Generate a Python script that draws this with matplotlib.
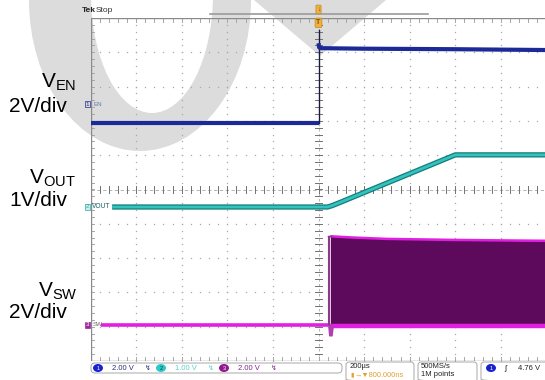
import numpy as np
import matplotlib
matplotlib.use("Agg")
import matplotlib.pyplot as plt
from matplotlib.patches import Ellipse, Polygon, FancyBboxPatch

plt.rcParams['font.family'] = ['Liberation Sans', 'DejaVu Sans']
plt.rcParams['mathtext.fontset'] = 'custom'
plt.rcParams['mathtext.rm'] = 'Liberation Sans'
plt.rcParams['mathtext.it'] = 'Liberation Sans'

# ---- acquisition settings -------------------------------------------------
time_per_div = 200.0          # us / div, trigger at t = 0 (screen centre)
n_div = 10                    # graticule divisions, both directions

# ---- channel 1 : EN, 2 V/div ----------------------------------------------
en_scale, en_pos = 2.0, 1.94          # V/div, ground position (div)
en_low_t = [-1000, 0]
en_low_v = [0.0, 0.0]
en_edge_v = [0.0, 5.4]                # rising edge at the trigger point
en_high_t = [0, 3, 10, 200, 600, 1100]
en_high_v = [4.65, 4.40, 4.36, 4.33, 4.30, 4.24]

# ---- channel 2 : VOUT, 1 V/div --------------------------------------------
vout_scale, vout_pos = 1.0, -0.51
vout_t = [-905, 40, 60, 90, 600, 1100]
vout_v = [0.0, 0.0, 0.04, 0.12, 1.52, 1.52]

# ---- channel 3 : SW, 2 V/div ----------------------------------------------
sw_scale, sw_pos = 2.0, -3.95
sw_idle_t = [-955, 40]
sw_idle_v = [0.0, 0.0]
sw_burst_t = [52, 70, 150, 300, 600, 900, 1100]
sw_burst_top = [5.18, 5.16, 5.10, 5.02, 4.96, 4.92, 4.90]
sw_first_pulses_t = [40, 44, 48]
sw_dip_t = [40, 44, 60, 66]
sw_dip_v = [0.0, -0.64, -0.64, 0.0]

# ---- status bar text ------------------------------------------------------
ch_labels = ['1', '2', '3']
ch_scales = ['2.00 V', '1.00 V', '2.00 V']
timebase = '200µs'
trig_delay = '800.000ns'
sample_rate = '500MS/s'
record_len = '1M points'
trig_level = '4.76 V'

W, H = 545, 380
fig = plt.figure(figsize=(W / 100, H / 100), dpi=100)
fig.patch.set_facecolor('white')

# overlay in pixel units for watermark, side labels and status bar
ov = fig.add_axes([0, 0, 1, 1], zorder=0)
ov.set_xlim(0, W)
ov.set_ylim(H, 0)
ov.axis('off')

wm = '#dcdcdc'
ov.add_patch(Ellipse((140, 0), 222, 302, color=wm, lw=0))
ov.add_patch(Ellipse((152, -6), 122, 238, color='white', lw=0))
ov.add_patch(Polygon([(254, 0), (386, 0), (320, 56)], closed=True, color=wm, lw=0))

# scope graticule axes (x in us, y in divisions)
gx0, gx1, gy0, gy1 = 90.5, 90.5 + 45.6 * n_div, 18, 361
ax = fig.add_axes([gx0 / W, (H - gy1) / H, (gx1 - gx0) / W, (gy1 - gy0) / H], zorder=2)
ax.patch.set_alpha(0)
half_t = time_per_div * n_div / 2
ax.set_xlim(-half_t, half_t)
ax.set_ylim(-n_div / 2, n_div / 2)
ax.axis('off')

gcol = '#a8a8a8'
minor_t = np.arange(-half_t, half_t + 1, time_per_div / 5)
minor_y = np.arange(-5, 5.01, 0.2)
for k in range(-4, 5):
    if k == 0:
        continue
    ax.plot(minor_t, np.full_like(minor_t, k), ls='none', marker='s', ms=0.9,
            mec='none', mfc=gcol, zorder=1)
    ax.plot(np.full_like(minor_y, k * time_per_div), minor_y, ls='none', marker='s',
            ms=0.9, mec='none', mfc=gcol, zorder=1)

# centre lines with minor ticks
ax.plot([-half_t, half_t], [0, 0], color=gcol, lw=0.6, ls=(0, (4, 3)), zorder=1)
ax.plot([0, 0], [-5, 5], color=gcol, lw=0.6, ls=(0, (3, 3)), zorder=1)
tk_y = 0.11
tk_t = 14.0
for t in minor_t:
    ax.plot([t, t], [-tk_y, tk_y], color='#707070', lw=0.7, zorder=1)
    ax.plot([t, t], [5, 5 - tk_y], color=gcol, lw=0.7, zorder=1)
    ax.plot([t, t], [-5, -5 + tk_y], color=gcol, lw=0.7, zorder=1)
for y in minor_y:
    ax.plot([-tk_t, tk_t], [y, y], color='#707070', lw=0.7, zorder=1)
    ax.plot([-half_t, -half_t + tk_t], [y, y], color=gcol, lw=0.7, zorder=1)

# border
ax.plot([-half_t, -half_t], [-5, 5], color='#8a8a8a', lw=1.0, zorder=1)
ax.plot([-half_t, half_t], [5, 5], color='#8a8a8a', lw=1.0, zorder=1)
ax.plot([-half_t, half_t], [-5, -5], color='#8a8a8a', lw=1.0, zorder=1)


def scr(v, scale, pos):
    return pos + np.asarray(v, dtype=float) / scale


# EN trace
en_c = '#1b2a96'
ax.plot(en_low_t, scr(en_low_v, en_scale, en_pos), color=en_c, lw=3.0,
        solid_capstyle='butt', zorder=4)
ax.plot([0, 0], scr(en_edge_v, en_scale, en_pos), color='#1a1a40', lw=1.0, zorder=4)
ax.plot(en_high_t, scr(en_high_v, en_scale, en_pos), color=en_c, lw=3.0,
        solid_capstyle='butt', zorder=4)

# VOUT trace
ax.plot(vout_t, scr(vout_v, vout_scale, vout_pos), color='#137d7a', lw=3.8,
        solid_capstyle='butt', zorder=4)
ax.plot(vout_t, scr(vout_v, vout_scale, vout_pos), color='#33c2bd', lw=2.0,
        solid_capstyle='butt', zorder=5)

# SW trace
sw_c = '#e21ee2'
sw_fill = '#5e0a5c'
ax.plot(sw_idle_t, scr(sw_idle_v, sw_scale, sw_pos), color=sw_c, lw=2.6,
        solid_capstyle='butt', zorder=4)
ax.fill_between(sw_burst_t, scr(np.zeros(len(sw_burst_t)), sw_scale, sw_pos),
                scr(sw_burst_top, sw_scale, sw_pos), color=sw_fill, lw=0, zorder=3)
ax.plot(sw_burst_t, scr(sw_burst_top, sw_scale, sw_pos), color=sw_c, lw=1.8,
        solid_capstyle='butt', zorder=4)
ax.plot(sw_burst_t, scr(np.full(len(sw_burst_t), -0.08), sw_scale, sw_pos), color=sw_c,
        lw=3.2, solid_capstyle='butt', zorder=4)
for t in sw_first_pulses_t:
    ax.plot([t, t], scr([0, sw_burst_top[0]], sw_scale, sw_pos), color='#8a3a88',
            lw=0.8, zorder=4)
ax.fill_between(sw_dip_t, scr(np.zeros(len(sw_dip_t)), sw_scale, sw_pos),
                scr(sw_dip_v, sw_scale, sw_pos), color='#b040b0', lw=0, zorder=4)
ax.plot([40, 56], scr([sw_burst_top[0], sw_burst_top[0]], sw_scale, sw_pos),
        color='#8a3a88', lw=1.0, zorder=4)

# record-view bar and trigger marker
ax.plot([-476, 480], [5.12, 5.12], color='#9a9a9a', lw=1.2, clip_on=False, zorder=2)
ax.text(0, 5.25, '↓', ha='center', va='center', fontsize=5, color='#7a5200',
        clip_on=False, zorder=6,
        bbox=dict(boxstyle='round,pad=0.12', fc='#f0b040', ec='#c08a20', lw=0.5))
ax.text(0, 4.86, 'T', ha='center', va='center', fontsize=5, color='#7a5200',
        fontweight='bold', clip_on=False, zorder=6,
        bbox=dict(boxstyle='round,pad=0.18', fc='#f0b040', ec='#c08a20', lw=0.5))

# channel ground markers
ax.text(-half_t - 14, en_pos + 0.55, '1', ha='center', va='center', fontsize=4.5,
        color='#1b2a96', clip_on=False, zorder=6,
        bbox=dict(boxstyle='square,pad=0.1', fc='none', ec='#1b2a96', lw=0.5))
ax.text(-half_t + 12, en_pos + 0.55, 'EN', ha='left', va='center', fontsize=4.5,
        color='#6a78b0', clip_on=False, zorder=6)
ax.text(-half_t - 14, vout_pos, '2', ha='center', va='center', fontsize=4.5,
        color='#2aaaa6', clip_on=False, zorder=6,
        bbox=dict(boxstyle='square,pad=0.1', fc='#c8f0ee', ec='#2aaaa6', lw=0.5))
ax.text(-half_t + 8, vout_pos, 'VOUT', ha='left', va='center', fontsize=4.8,
        color='#0f5e5c', clip_on=False, zorder=6)
ax.text(-half_t - 14, sw_pos, '3', ha='center', va='center', fontsize=4.5,
        color='white', clip_on=False, zorder=6,
        bbox=dict(boxstyle='square,pad=0.1', fc='#a0269e', ec='#a0269e', lw=0.5))
ax.text(-half_t + 8, sw_pos, 'SW', ha='left', va='center', fontsize=4.5,
        color='#707070', clip_on=False, zorder=6)

# header
ov.text(82, 10, 'Tek', fontsize=6, fontweight='bold', ha='left', va='center', color='#222')
ov.text(96, 10, 'Stop', fontsize=6, ha='left', va='center', color='#333')

# side labels
lab = 15
ov.text(76, 82, r'V$_{\mathrm{EN}}$', fontsize=lab, ha='right', va='center')
ov.text(67, 106, '2V/div', fontsize=lab, ha='right', va='center')
ov.text(76, 178, r'V$_{\mathrm{OUT}}$', fontsize=lab, ha='right', va='center')
ov.text(67, 200, '1V/div', fontsize=lab, ha='right', va='center')
ov.text(78, 291, r'V$_{\mathrm{SW}}$', fontsize=lab, ha='right', va='center')
ov.text(67, 312, '2V/div', fontsize=lab, ha='right', va='center')

# status bar
sy = 368
ov.add_patch(FancyBboxPatch((91, sy - 5), 251, 10, boxstyle='round,pad=0,rounding_size=4',
                            fc='none', ec='#a8a8a8', lw=0.7))
dot_cols = ['#1a22d0', '#2ec8c8', '#8e1a8e']
txt_cols = ['#2a2f7a', '#5ccfcf', '#7a2a8a']
for i, (lbl, s) in enumerate(zip(ch_labels, ch_scales)):
    x0 = 98 + i * 63
    ov.add_patch(Ellipse((x0, sy), 10, 8, color=dot_cols[i], lw=0))
    ov.text(x0, sy, lbl, fontsize=4, ha='center', va='center',
            color='white' if i != 1 else '#0a4040')
    ov.text(x0 + 14, sy, s, fontsize=5.5, ha='left', va='center', color=txt_cols[i])
    ov.text(x0 + 50, sy, '↯', fontsize=5, ha='center', va='center', color=txt_cols[i])

for xl, xr in [(346, 414), (418, 477), (481, 560)]:
    ov.add_patch(FancyBboxPatch((xl, sy - 6), xr - xl, 20,
                                boxstyle='round,pad=0,rounding_size=3',
                                fc='none', ec='#a8a8a8', lw=0.7))
ov.text(350, sy - 1, timebase, fontsize=5.5, ha='left', va='center', color='#222')
ov.text(350, sy + 7, '▮', fontsize=4.5, ha='left', va='center', color='#e0a030')
ov.text(355, sy + 7, '→▼' + trig_delay, fontsize=5.3, ha='left', va='center', color='#e0a030')
ov.text(421, sy - 1, sample_rate, fontsize=5.5, ha='left', va='center', color='#222')
ov.text(421, sy + 7, record_len, fontsize=5.5, ha='left', va='center', color='#222')
ov.add_patch(Ellipse((491, sy), 10, 8, color='#1a22d0', lw=0))
ov.text(491, sy, '1', fontsize=4, ha='center', va='center', color='white')
ov.text(505, sy, 'ʃ', fontsize=6, ha='center', va='center', color='#222')
ov.text(518, sy, trig_level, fontsize=5.5, ha='left', va='center', color='#222')

fig.savefig('out.png', dpi=100, facecolor='white')
